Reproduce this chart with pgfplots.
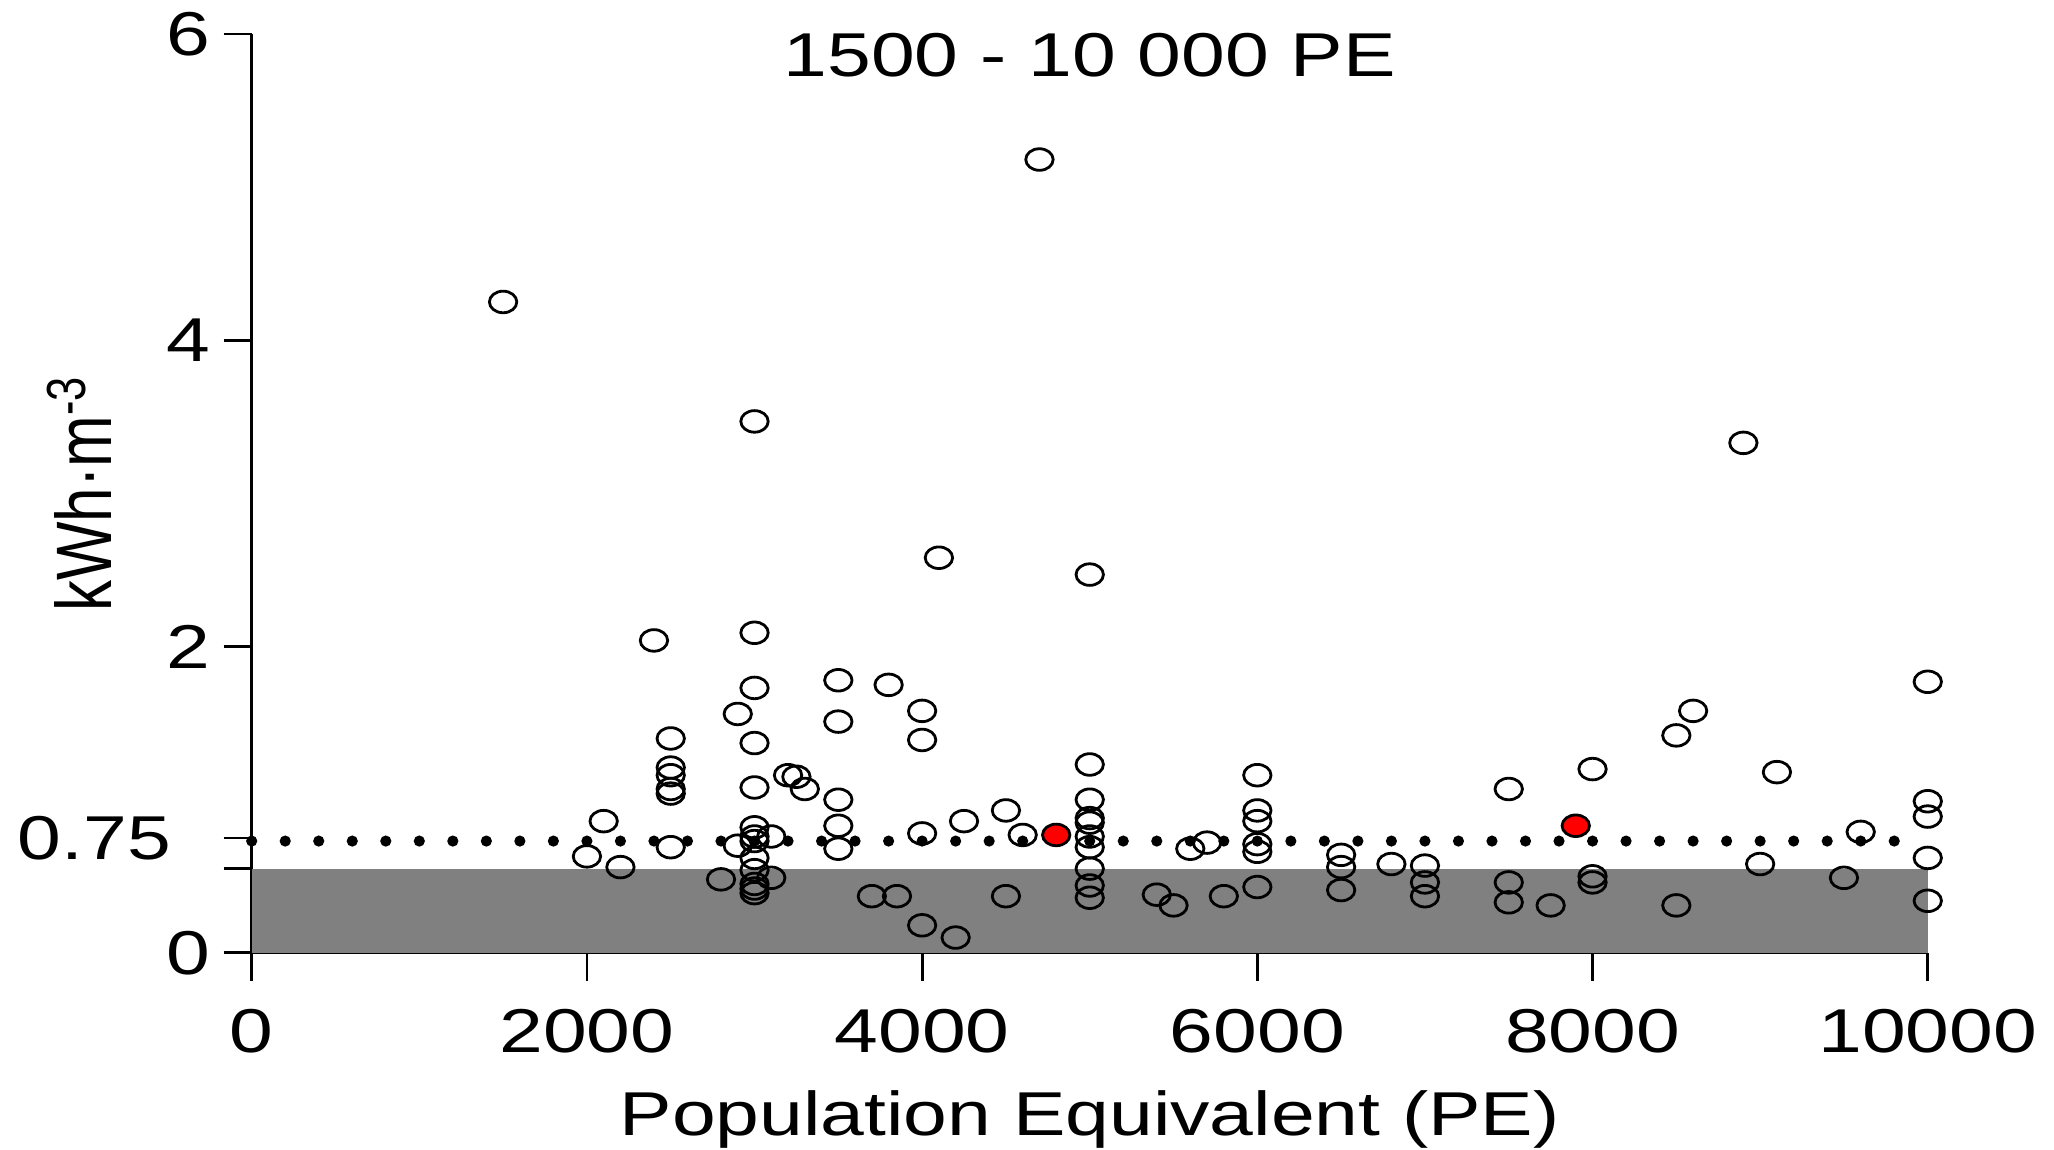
\documentclass[border=0pt]{standalone}
\usepackage{fontspec}
\setmainfont{Liberation Sans}
\usepackage{pgfplots}
\pgfplotsset{compat=1.18}

\begin{document}
\begin{tikzpicture}
\begin{axis}[
    scale only axis,
    width=419.5pt, height=230pt,
    xmin=0, xmax=10000,
    ymin=0, ymax=6,
    axis x line*=bottom,
    axis y line*=left,
    axis line style={-, line width=0.7pt},
    tick style={line width=0.7pt, black},
    tick align=outside,
    major tick length=7pt,
    scaled x ticks=false,
    xtick={0,2000,4000,6000,8000,10000},
    xticklabels={0,2000,4000,6000,8000,10000},
    ytick={0,0.55,0.75,2,4,6},
    yticklabels={0,{},0.75\hspace*{7.7pt},2,4,6},
    font=\fontsize{15.5}{18}\selectfont,
    tick label style={font=\fontsize{15.5}{18}\selectfont, xscale=1.27, inner ysep=1pt},
    xticklabel style={yshift=-5.8pt},
    yticklabel style={xshift=0.8pt},
    every axis title shift=0pt,
    title={1500 - 10 000 PE},
    title style={at={(axis description cs:0.5,0.9533)}, anchor=base, xscale=1.27},
    xlabel={Population Equivalent (PE)},
    xlabel style={at={(axis description cs:0.5,-0.1989)}, anchor=base, xscale=1.27, inner sep=0pt},
    ylabel={kWh·m\textsuperscript{-3}},
    ylabel style={at={(axis description cs:-0.0834,0.5)}, anchor=base, yscale=1.27},
    clip=false,
]
% shaded band
\addplot[draw=none, fill=gray] coordinates {(0,0.55) (10000,0.55)} \closedcycle;
% dotted reference line
\addplot[black, line width=2.8pt, line cap=round, dash pattern=on 0pt off 8.39pt] coordinates {(0,0.73) (10000,0.73)};
% plants
\addplot[only marks, mark=o, mark size=2.7pt, mark options={xscale=1.27, line width=0.7pt, black}] coordinates {
(1500,4.25)
(2000,0.63) (2100,0.86) (2200,0.56) (2400,2.04)
(2500,1.40) (2500,1.21) (2500,1.16) (2500,1.07) (2500,1.04) (2500,0.69)
(2800,0.48) (2900,1.56) (2900,0.70)
(3000,3.47) (3000,2.09) (3000,1.73) (3000,1.37) (3000,1.08) (3000,0.82) (3000,0.76) (3000,0.73)
(3000,0.62) (3000,0.54) (3000,0.45) (3000,0.42) (3000,0.39)
(3100,0.76) (3100,0.49) (3200,1.16) (3250,1.15) (3300,1.07)
(3500,1.78) (3500,1.51) (3500,1.00) (3500,0.83) (3500,0.68)
(3700,0.37) (3800,1.75) (3850,0.37)
(4000,1.58) (4000,1.39) (4000,0.78) (4000,0.18)
(4100,2.58) (4200,0.10) (4250,0.86) (4500,0.93) (4500,0.37) (4600,0.77) (4700,5.18)
(5000,2.47) (5000,1.23) (5000,1.00) (5000,0.88) (5000,0.85) (5000,0.76) (5000,0.69)
(5000,0.55) (5000,0.44) (5000,0.36)
(5400,0.38) (5500,0.31) (5600,0.68) (5700,0.72) (5800,0.37)
(6000,1.16) (6000,0.93) (6000,0.86) (6000,0.71) (6000,0.66) (6000,0.43)
(6500,0.64) (6500,0.56) (6500,0.41) (6800,0.58)
(7000,0.57) (7000,0.46) (7000,0.37)
(7500,1.07) (7500,0.46) (7500,0.33) (7750,0.31)
(8000,1.20) (8000,0.50) (8000,0.46)
(8500,1.42) (8500,0.31) (8600,1.58) (8900,3.33)
(9000,0.58) (9100,1.18) (9500,0.49) (9600,0.79)
(10000,1.77) (10000,0.99) (10000,0.89) (10000,0.62) (10000,0.34)
};
% highlighted plants
\addplot[only marks, mark=*, mark size=2.7pt, mark options={xscale=1.27, line width=0.7pt, draw=black, fill=red}] coordinates {
(4800,0.77) (7900,0.83)
};
\end{axis}
\path ([shift={(-63pt,-49.25pt)}]current axis.south west) rectangle ([shift={(31pt,8.5pt)}]current axis.north east);
\end{tikzpicture}
\end{document}
